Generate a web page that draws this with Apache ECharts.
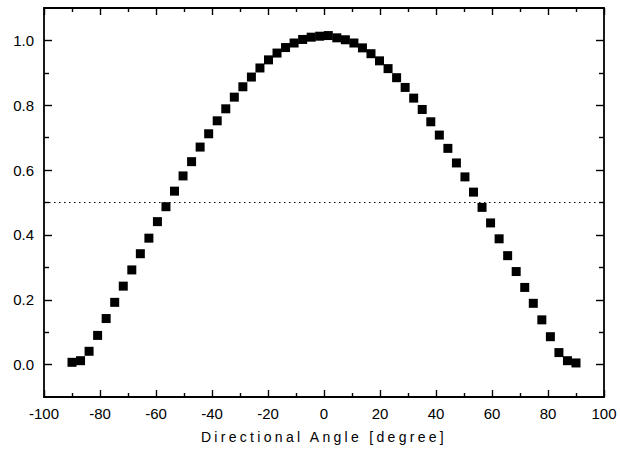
<!DOCTYPE html>
<html>
<head>
<meta charset="utf-8">
<script src="https://cdn.jsdelivr.net/npm/echarts@6/dist/echarts.min.js"></script>
<style>
  html, body { margin: 0; padding: 0; background: #fff; }
  #chart { width: 620px; height: 449px; }
</style>
</head>
<body>
<div id="chart"></div>
<script>
// Directional angle (degree) for each measured point
var angles = [-90.00,-86.95,-83.90,-80.85,-77.80,-74.75,-71.69,-68.64,-65.59,-62.54,
  -59.49,-56.44,-53.39,-50.34,-47.29,-44.24,-41.19,-38.14,-35.08,-32.03,
  -28.98,-25.93,-22.88,-19.83,-16.78,-13.73,-10.68,-7.63,-4.58,-1.53,
  1.53,4.58,7.63,10.68,13.73,16.78,19.83,22.88,25.93,28.98,
  32.03,35.08,38.14,41.19,44.24,47.29,50.34,53.39,56.44,59.49,
  62.54,65.59,68.64,71.69,74.75,77.80,80.85,83.90,86.95,90.00];
// Normalized response
var response = [0.007,0.012,0.041,0.090,0.142,0.192,0.242,0.292,0.342,0.390,
  0.441,0.487,0.535,0.582,0.626,0.671,0.712,0.752,0.789,0.825,
  0.857,0.887,0.915,0.940,0.961,0.978,0.992,1.003,1.010,1.013,
  1.015,1.008,1.002,0.992,0.977,0.959,0.937,0.913,0.885,0.855,
  0.822,0.787,0.749,0.708,0.667,0.622,0.579,0.532,0.485,0.437,
  0.388,0.336,0.287,0.238,0.189,0.138,0.086,0.037,0.012,0.005];
var yMajorTicks = [0.0, 0.2, 0.4, 0.6, 0.8, 1.0];
var yMinorTicks = [0.1, 0.3, 0.5, 0.7, 0.9];
var halfLevel = 0.5;
var xTitle = 'Directional Angle [degree]';

var FONT = 'Liberation Sans, Arial, Helvetica, sans-serif';
var points = angles.map(function (a, i) { return [a, response[i]]; });

var chart = echarts.init(document.getElementById('chart'), null, { renderer: 'svg' });

function xAx(pos, showLabel) {
  return {
    type: 'value', position: pos, min: -100, max: 100, interval: 20,
    name: showLabel ? xTitle : '',
    nameLocation: 'middle', nameGap: 33,
    nameTextStyle: { fontFamily: FONT, fontSize: 14, color: '#000' },
    axisLine: { show: true, onZero: false, lineStyle: { color: '#000', width: 1.8 } },
    axisTick: { show: true, inside: true, length: 7, lineStyle: { color: '#000', width: 1.4 } },
    minorTick: { show: true, splitNumber: 2, length: 4, lineStyle: { color: '#000', width: 1.4 } },
    axisLabel: { show: showLabel, margin: 9, fontFamily: FONT, fontSize: 15, color: '#000' },
    splitLine: { show: false }
  };
}
function yAx(pos, ticks, len, showLabel, showLine) {
  return {
    type: 'value', position: pos, min: -0.1, max: 1.1,
    axisLine: { show: showLine, onZero: false, lineStyle: { color: '#000', width: 1.8 } },
    axisTick: { show: true, inside: true, length: len, customValues: ticks,
      lineStyle: { color: '#000', width: 1.4 } },
    axisLabel: { show: showLabel, customValues: ticks, margin: 10,
      fontFamily: FONT, fontSize: 15, color: '#000',
      formatter: function (v) { return Number(v).toFixed(1); } },
    splitLine: { show: false }
  };
}

chart.setOption({
  animation: false,
  backgroundColor: '#fff',
  grid: { left: 44, right: 16, top: 8, bottom: 51 },
  xAxis: [xAx('bottom', true), xAx('top', false)],
  yAxis: [
    yAx('left', yMajorTicks, 8, true, true),
    yAx('left', yMinorTicks, 5, false, false),
    yAx('right', yMajorTicks, 8, false, true),
    yAx('right', yMinorTicks, 5, false, false)
  ],
  series: [{
    type: 'scatter',
    xAxisIndex: 0, yAxisIndex: 0,
    symbol: 'rect', symbolSize: 9,
    itemStyle: { color: '#000', opacity: 1 },
    data: points,
    markLine: {
      silent: true, symbol: 'none',
      label: { show: false },
      lineStyle: { color: '#000', width: 1.2, type: [1.5, 3.5], opacity: 1 },
      data: [{ yAxis: halfLevel }]
    }
  }]
});

function spaceTitle() {
  var texts = document.querySelectorAll('#chart text');
  texts.forEach(function (t) {
    if (t.textContent === xTitle) {
      t.setAttribute('letter-spacing', '3.3');
      t.style.letterSpacing = '3.3px';
    }
  });
}
spaceTitle();
chart.on('finished', spaceTitle);
</script>
</body>
</html>
